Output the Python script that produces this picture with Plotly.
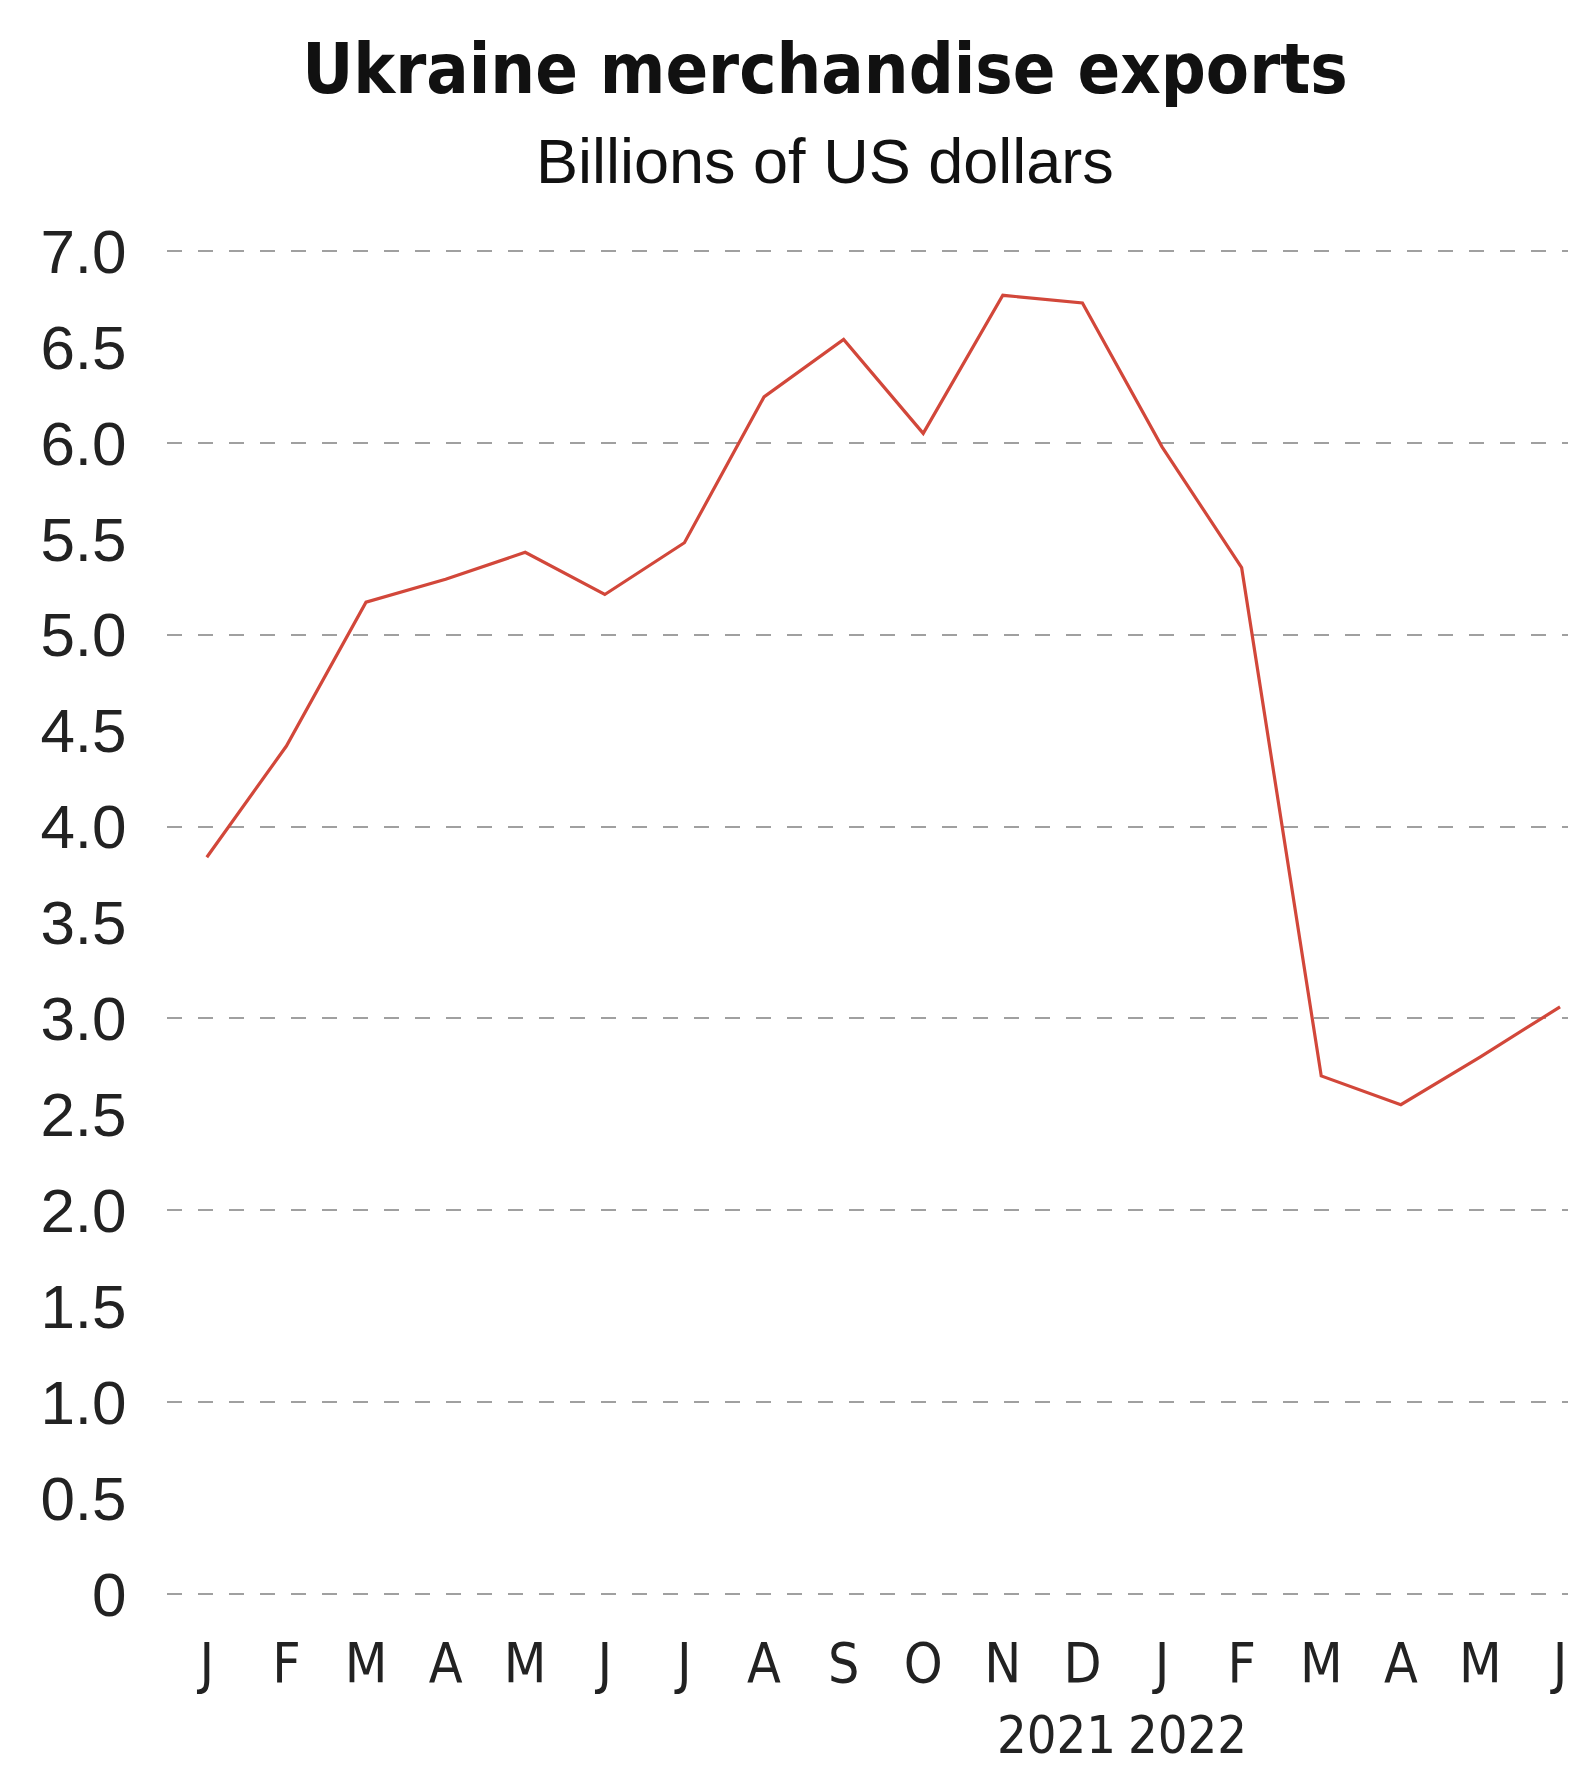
import plotly.graph_objects as go

# ---- data ----
months = ["2021-01", "2021-02", "2021-03", "2021-04", "2021-05", "2021-06",
          "2021-07", "2021-08", "2021-09", "2021-10", "2021-11", "2021-12",
          "2022-01", "2022-02", "2022-03", "2022-04", "2022-05", "2022-06"]
month_labels = ["J", "F", "M", "A", "M", "J", "J", "A", "S", "O", "N", "D",
                "J", "F", "M", "A", "M", "J"]
exports = [3.84, 4.42, 5.17, 5.29, 5.43, 5.21, 5.48, 6.24, 6.54, 6.05, 6.77, 6.73,
           5.98, 5.35, 2.70, 2.55, 2.80, 3.06]
y_label_vals = [0, 0.5, 1, 1.5, 2, 2.5, 3, 3.5, 4, 4.5, 5, 5.5, 6, 6.5, 7]
y_label_text = ["0", "0.5", "1.0", "1.5", "2.0", "2.5", "3.0", "3.5", "4.0",
                "4.5", "5.0", "5.5", "6.0", "6.5", "7.0"]
grid_vals = [0, 1, 2, 3, 4, 5, 6, 7]
year_labels = ["2021", "2022"]
title_text = "Ukraine merchandise exports"
subtitle_text = "Billions of US dollars"

x_idx = list(range(len(months)))

W, H = 1570, 1769
m_l, m_r, m_t, m_b = 167, 2, 231.5, 156
plot_h = H - m_t - m_b
plot_w = W - m_l - m_r

def py(p):
    return (H - m_b - p) / plot_h

def px(p):
    return (p - m_l) / plot_w

NARROW = "Liberation Sans Narrow, DejaVu Sans Condensed, Arial Narrow, sans-serif"
REG = "Liberation Sans, Arial, sans-serif"

fig = go.Figure()
# invisible trace on second y axis carrying the dashed integer gridlines
fig.add_trace(go.Scatter(x=x_idx, y=exports, yaxis="y2", mode="lines",
                         line=dict(color="rgba(0,0,0,0)"), hoverinfo="skip",
                         showlegend=False))
fig.add_trace(go.Scatter(x=x_idx, y=exports, mode="lines",
                         line=dict(color="#d2473a", width=3.2),
                         showlegend=False))

fig.update_layout(
    width=W, height=H,
    margin=dict(l=m_l, r=m_r, t=m_t, b=m_b),
    paper_bgcolor="white", plot_bgcolor="white",
    title=dict(text="<b>" + title_text + "</b>", x=px(825), xanchor="center",
               xref="paper", yref="container", y=1 - 68 / H, yanchor="middle",
               font=dict(family=NARROW, size=70, color="#111")),
    xaxis=dict(range=[-0.5, 17.1], tickmode="array", tickvals=x_idx,
               ticktext=month_labels, showgrid=False, zeroline=False,
               showline=False, ticks="outside", ticklen=2,
               tickcolor="rgba(0,0,0,0)",
               tickfont=dict(family=NARROW, size=55, color="#222")),
    yaxis=dict(range=[-0.1, 7.1], tickmode="array", tickvals=y_label_vals,
               ticktext=y_label_text, showgrid=False, zeroline=False,
               showline=False, ticks="outside", ticklen=27,
               tickcolor="rgba(0,0,0,0)",
               tickfont=dict(family=REG, size=62, color="#222")),
    yaxis2=dict(range=[-0.1, 7.1], overlaying="y", side="left",
                tickmode="array", tickvals=grid_vals, showticklabels=False,
                showgrid=True, gridcolor="#a0a0a0", gridwidth=2,
                griddash="15px,16px", zeroline=False, showline=False),
    showlegend=False,
)

fig.add_annotation(text=subtitle_text, xref="paper", yref="paper",
                   x=px(825), y=py(160),
                   xanchor="center", yanchor="middle", showarrow=False,
                   font=dict(family=REG, size=63, color="#111"))
# year labels flanking the year boundary
fig.add_annotation(text=year_labels[0], xref="x", yref="paper", x=11.5,
                   y=py(1735), xanchor="right", yanchor="middle", xshift=-4,
                   showarrow=False, font=dict(family=NARROW, size=52, color="#222"))
fig.add_annotation(text=year_labels[1], xref="x", yref="paper", x=11.5,
                   y=py(1735), xanchor="left", yanchor="middle", xshift=4,
                   showarrow=False, font=dict(family=NARROW, size=52, color="#222"))

fig.write_html("out.html")
